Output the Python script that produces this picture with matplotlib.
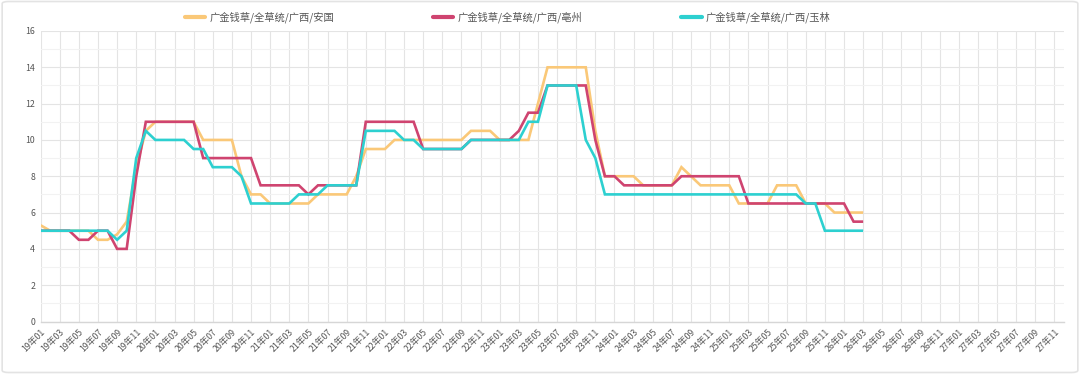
import matplotlib
matplotlib.use("Agg")
import matplotlib.pyplot as plt
from matplotlib.patches import FancyBboxPatch
from matplotlib.ticker import MultipleLocator

plt.rcParams['font.family'] = ['Noto Sans CJK SC', 'DejaVu Sans']

# categories: 19年01 .. 27年12
months = [f"{y:02d}年{m:02d}" for y in range(19, 28) for m in range(1, 13)]

series_names = ["广金钱草/全草统/广西/安国", "广金钱草/全草统/广西/亳州", "广金钱草/全草统/广西/玉林"]

anguo = [5.3, 5, 5, 5, 5, 5, 4.5, 4.5, 4.8, 5.5, 8.5, 10.5,
         11, 11, 11, 11, 11, 10, 10, 10, 10, 8, 7, 7,
         6.5, 6.5, 6.5, 6.5, 6.5, 7, 7, 7, 7, 8, 9.5, 9.5,
         9.5, 10, 10, 10, 10, 10, 10, 10, 10, 10.5, 10.5, 10.5,
         10, 10, 10, 10, 12, 14, 14, 14, 14, 14, 10.5, 8,
         8, 8, 8, 7.5, 7.5, 7.5, 7.5, 8.5, 8, 7.5, 7.5, 7.5,
         7.5, 6.5, 6.5, 6.5, 6.5, 7.5, 7.5, 7.5, 6.5, 6.5, 6.5, 6,
         6, 6, 6]

bozhou = [5, 5, 5, 5, 4.5, 4.5, 5, 5, 4, 4, 8, 11,
          11, 11, 11, 11, 11, 9, 9, 9, 9, 9, 9, 7.5,
          7.5, 7.5, 7.5, 7.5, 7, 7.5, 7.5, 7.5, 7.5, 7.5, 11, 11,
          11, 11, 11, 11, 9.5, 9.5, 9.5, 9.5, 9.5, 10, 10, 10,
          10, 10, 10.5, 11.5, 11.5, 13, 13, 13, 13, 13, 10, 8,
          8, 7.5, 7.5, 7.5, 7.5, 7.5, 7.5, 8, 8, 8, 8, 8,
          8, 8, 6.5, 6.5, 6.5, 6.5, 6.5, 6.5, 6.5, 6.5, 6.5, 6.5,
          6.5, 5.5, 5.5]

yulin = [5, 5, 5, 5, 5, 5, 5, 5, 4.5, 5, 9, 10.5,
         10, 10, 10, 10, 9.5, 9.5, 8.5, 8.5, 8.5, 8, 6.5, 6.5,
         6.5, 6.5, 6.5, 7, 7, 7, 7.5, 7.5, 7.5, 7.5, 10.5, 10.5,
         10.5, 10.5, 10, 10, 9.5, 9.5, 9.5, 9.5, 9.5, 10, 10, 10,
         10, 10, 10, 11, 11, 13, 13, 13, 13, 10, 9, 7,
         7, 7, 7, 7, 7, 7, 7, 7, 7, 7, 7, 7,
         7, 7, 7, 7, 7, 7, 7, 7, 6.5, 6.5, 5, 5,
         5, 5, 5]

colors = ["#FAC878", "#CF4470", "#2DD0D0"]

W, H = 1080, 374
fig = plt.figure(figsize=(W / 100, H / 100), dpi=100)
fig.patch.set_facecolor("white")

# card border
border = FancyBboxPatch((0.002, 0.004), 0.996, 0.992, boxstyle="round,pad=0,rounding_size=0.006",
                        transform=fig.transFigure, facecolor="none", edgecolor="#e3e3e3", linewidth=1.2)
fig.patches.append(border)

left, right = 40.6 / W, 1064.0 / W
bottom, top = (H - 321.5) / H, (H - 31.0) / H
ax = fig.add_axes([left, bottom, right - left, top - bottom])

x_all = list(range(len(months)))
for name, data, c in zip(series_names, [anguo, bozhou, yulin], colors):
    ax.plot(x_all[:len(data)], data, color=c, linewidth=1.9, label=name,
            solid_joinstyle="miter", solid_capstyle="butt", zorder=3)

ax.set_xlim(0, len(months) - 1)
ax.set_ylim(0, 16)

ax.set_xticks(x_all[::2])
ax.set_xticklabels(months[::2], rotation=45, ha="right", va="top",
                   rotation_mode="anchor", fontsize=6.3, color="#555555")
ax.set_yticks(range(0, 17, 2))
ax.set_yticklabels([str(v) for v in range(0, 17, 2)], fontsize=6.3, color="#555555")
ax.yaxis.set_minor_locator(MultipleLocator(1))

ax.tick_params(axis="both", length=0, pad=4)
ax.tick_params(axis="y", which="minor", length=0)

ax.grid(True, which="major", color="#e4e4e4", linewidth=0.8)
ax.grid(True, which="minor", axis="y", color="#f2f2f2", linewidth=0.8)
ax.set_axisbelow(True)

for s in ["top", "right", "left"]:
    ax.spines[s].set_visible(False)
ax.spines["bottom"].set_color("#d6d6d6")
ax.spines["bottom"].set_linewidth(1.0)

leg = fig.legend(loc="upper center", bbox_to_anchor=(0.470, 0.993), ncol=3, frameon=False,
                 fontsize=7.4, handlelength=2.0, handletextpad=0.4, columnspacing=9.6)
for t in leg.get_texts():
    t.set_color("#555555")
for l in leg.get_lines():
    l.set_linewidth(3.0)
    l.set_solid_capstyle("round")

fig.savefig("out.png", dpi=100, facecolor="white")
